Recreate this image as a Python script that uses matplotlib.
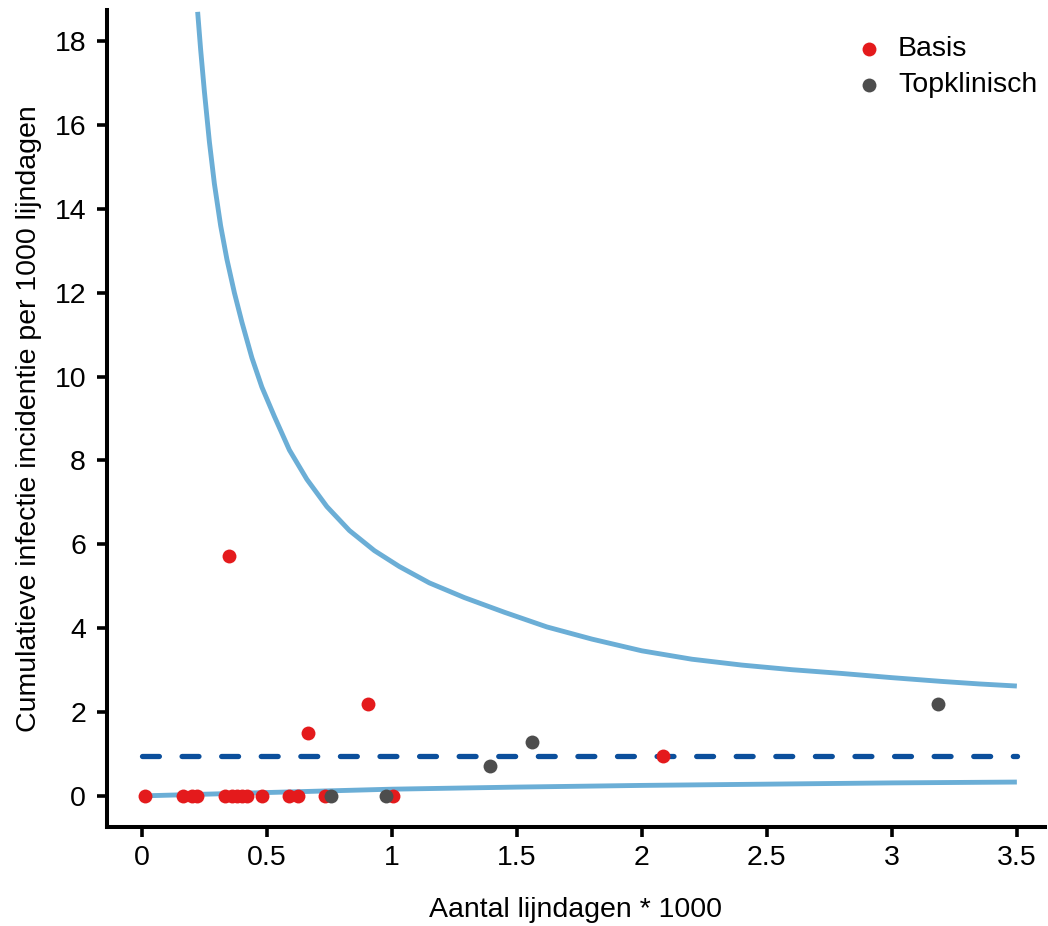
import matplotlib
matplotlib.use("Agg")
import matplotlib.pyplot as plt

plt.rcParams['font.family'] = ['Liberation Sans', 'DejaVu Sans']

# Points: lijndagen (x1000) and cumulative incidence per 1000 lijndagen
basis_x = [0.012, 0.163, 0.199, 0.221, 0.332, 0.359, 0.379, 0.399, 0.419,
           0.481, 0.589, 0.625, 0.732, 1.005, 0.348, 0.665, 0.905, 2.083]
basis_y = [0, 0, 0, 0, 0, 0, 0, 0, 0,
           0, 0, 0, 0, 0, 5.72, 1.51, 2.19, 0.95]
top_x = [0.756, 0.976, 1.392, 1.559, 3.184]
top_y = [0, 0, 0.72, 1.28, 2.19]

# Mean and control limits
mean_rate = 0.95
upper_x = [0.223, 0.235, 0.25, 0.27, 0.29, 0.315, 0.34, 0.37, 0.40, 0.44,
           0.48, 0.53, 0.59, 0.66, 0.74, 0.83, 0.93, 1.03, 1.15, 1.29,
           1.45, 1.62, 1.80, 2.0, 2.2, 2.4, 2.6, 2.8, 3.0, 3.2, 3.35, 3.5]
upper_y = [18.7, 17.8, 16.8, 15.6, 14.6, 13.6, 12.8, 12.0, 11.3, 10.45,
           9.75, 9.05, 8.25, 7.55, 6.9, 6.33, 5.85, 5.47, 5.08, 4.73,
           4.38, 4.03, 3.74, 3.46, 3.26, 3.12, 3.01, 2.92, 2.82, 2.73, 2.67, 2.62]
lower_x = [0.0, 0.25, 0.5, 0.75, 1.0, 1.5, 2.0, 2.5, 3.0, 3.5]
lower_y = [0.0, 0.04, 0.08, 0.12, 0.16, 0.21, 0.25, 0.28, 0.31, 0.33]

fig = plt.figure(figsize=(10.48, 9.26), dpi=100)
ax = fig.add_axes([0.102, 0.107, 0.895, 0.882])

ax.plot(upper_x, upper_y, color='#6BAED6', lw=3.5, solid_capstyle='butt',
        solid_joinstyle='round')
ax.plot(lower_x, lower_y, color='#6BAED6', lw=3.5, solid_capstyle='butt',
        solid_joinstyle='round')
ax.plot([0, 3.5], [mean_rate, mean_rate], color='#0B4F9C', lw=3.8,
        dashes=(3.2, 4.3), dash_capstyle='round')

ax.scatter(basis_x, basis_y, s=100, color='#E41A1C', label='Basis', zorder=3,
           linewidths=0)
ax.scatter(top_x, top_y, s=100, color='#4D4D4D', label='Topklinisch', zorder=3,
           linewidths=0)

ax.set_xlim(-0.14, 3.612)
ax.set_ylim(-0.74, 18.74)
ax.set_xticks([0, 0.5, 1, 1.5, 2, 2.5, 3, 3.5])
ax.set_xticklabels(['0', '0.5', '1', '1.5', '2', '2.5', '3', '3.5'])
ax.set_yticks(range(0, 19, 2))

for side in ['top', 'right']:
    ax.spines[side].set_visible(False)
for side in ['left', 'bottom']:
    ax.spines[side].set_linewidth(2.9)
ax.tick_params(width=2.6, length=7, labelsize=20.5)
ax.tick_params(axis='y', pad=8)
ax.tick_params(axis='x', pad=6)

ax.set_xlabel('Aantal lijndagen * 1000', fontsize=20.5, labelpad=19)
ax.set_ylabel('Cumulatieve infectie incidentie per 1000 lijndagen',
              fontsize=20.5, labelpad=9)

ax.legend(loc='upper right', frameon=False, fontsize=20.5, handlelength=1.4,
          handletextpad=0.3, labelspacing=0.35, borderaxespad=0,
          bbox_to_anchor=(1.004, 0.982))

fig.savefig('out.png', dpi=100)
